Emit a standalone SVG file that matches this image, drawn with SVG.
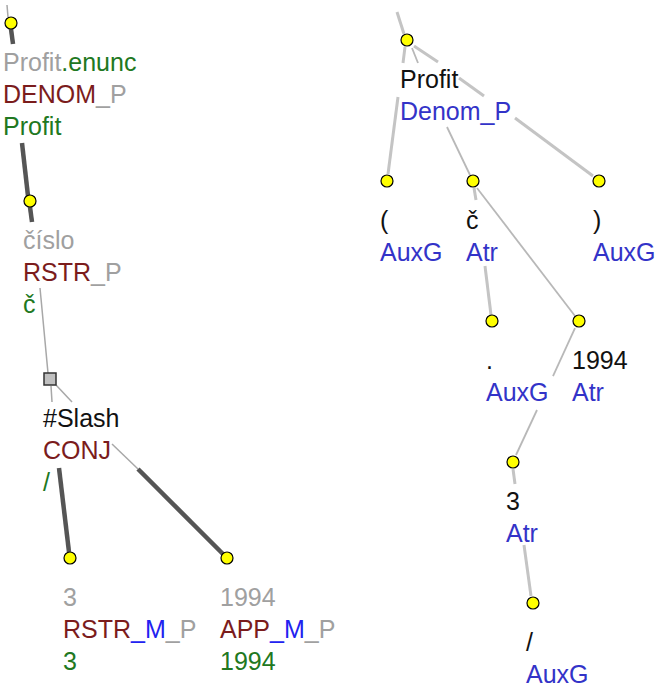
<svg xmlns="http://www.w3.org/2000/svg" width="659" height="687" viewBox="0 0 659 687">
<style>
text{font-family:"Liberation Sans",Arial,sans-serif;font-size:25px}
.g{fill:#a0a0a0}.gr{fill:#217821}.br{fill:#7b1c1c}.bl{fill:#2222f0}.k{fill:#111}.b{fill:#3333c8}
.nd{fill:#ffff00;stroke:#000;stroke-width:1.2}
.thick{stroke:#555;stroke-width:4.5;stroke-linecap:butt;fill:none}
.thin{stroke:#a8a8a8;stroke-width:1.5;fill:none}
.rt{stroke:#c4c4c4;stroke-width:3;fill:none}
.rn{stroke:#b8b8b8;stroke-width:1.8;fill:none}
</style>
<rect width="659" height="687" fill="#fff"/>
<g id="connectors">
<line class="thin" x1="7" y1="5" x2="8" y2="17" stroke="#777"/>
<line class="thick" x1="11" y1="29" x2="13" y2="44"/>
<line class="thick" x1="22" y1="143" x2="28" y2="196"/>
<line class="thick" x1="30" y1="207" x2="32" y2="222"/>
<line class="thin" x1="40" y1="288" x2="48" y2="373"/>
<line class="thin" x1="51" y1="386" x2="52" y2="402"/>
<line class="thick" x1="59" y1="468" x2="69" y2="552"/>
<line class="thin" x1="56" y1="385" x2="72" y2="402"/>
<line class="thin" x1="112" y1="444" x2="138" y2="469"/>
<line class="thick" x1="138" y1="469" x2="223" y2="554"/>
<line class="rt" x1="397" y1="12" x2="404" y2="34"/>
<line class="rt" x1="405" y1="47" x2="403" y2="63"/>
<line class="rt" x1="398" y1="97" x2="388" y2="174"/>
<line class="rn" x1="412" y1="48" x2="418" y2="63"/>
<line class="rn" x1="447" y1="127" x2="470" y2="175"/>
<line class="rt" x1="414" y1="46" x2="438" y2="62"/>
<line class="rt" x1="459" y1="78" x2="484" y2="96"/>
<line class="rt" x1="515" y1="118" x2="593" y2="176"/>
<line class="rt" x1="474" y1="188" x2="476" y2="200"/>
<line class="rt" x1="485" y1="266" x2="491" y2="315"/>
<line class="rn" x1="477" y1="188" x2="575" y2="316"/>
<line class="rn" x1="575" y1="328" x2="553" y2="376"/>
<line class="rn" x1="537" y1="410" x2="516" y2="455"/>
<line class="rt" x1="513" y1="469" x2="515" y2="484"/>
<line class="rt" x1="524" y1="545" x2="531" y2="596"/>
</g>
<g id="n-profit-enunc">
<circle class="nd" cx="11" cy="23" r="6"/>
<text x="3" y="71"><tspan class="g">Profit</tspan><tspan class="gr">.enunc</tspan></text>
<text x="3" y="103"><tspan class="br">DENOM</tspan><tspan class="g">_P</tspan></text>
<text x="3" y="135" class="gr">Profit</text>
</g>
<g id="n-cislo">
<circle class="nd" cx="30" cy="201" r="6"/>
<text x="23" y="249" class="g">číslo</text>
<text x="23" y="281"><tspan class="br">RSTR</tspan><tspan class="g">_P</tspan></text>
<text x="23" y="313" class="gr">č</text>
</g>
<g id="n-slash">
<rect x="44" y="373" width="12" height="12" fill="#c0c0c0" stroke="#333" stroke-width="1.5"/>
<text x="43" y="427" class="k">#Slash</text>
<text x="43" y="459" class="br">CONJ</text>
<text x="43" y="491" class="gr">/</text>
</g>
<g id="n-3">
<circle class="nd" cx="70" cy="558" r="6"/>
<text x="63" y="606" class="g">3</text>
<text x="63" y="638"><tspan class="br">RSTR</tspan><tspan class="bl">_M</tspan><tspan class="g">_P</tspan></text>
<text x="63" y="670" class="gr">3</text>
</g>
<g id="n-1994">
<circle class="nd" cx="227" cy="558" r="6"/>
<text x="220" y="606" class="g">1994</text>
<text x="220" y="638"><tspan class="br">APP</tspan><tspan class="bl">_M</tspan><tspan class="g">_P</tspan></text>
<text x="220" y="670" class="gr">1994</text>
</g>
<g id="a-profit">
<circle class="nd" cx="407" cy="40" r="6"/>
<text x="400" y="88" class="k">Profit</text>
<text x="400" y="120" class="b">Denom_P</text>
</g>
<g id="a-lpar">
<circle class="nd" cx="387" cy="181" r="6"/>
<text x="380" y="229" class="k">(</text>
<text x="380" y="261" class="b">AuxG</text>
</g>
<g id="a-c">
<circle class="nd" cx="473" cy="181" r="6"/>
<text x="466" y="229" class="k">č</text>
<text x="466" y="261" class="b">Atr</text>
</g>
<g id="a-rpar">
<circle class="nd" cx="599" cy="181" r="6"/>
<text x="593" y="229" class="k">)</text>
<text x="593" y="261" class="b">AuxG</text>
</g>
<g id="a-dot">
<circle class="nd" cx="492" cy="321" r="6"/>
<text x="486" y="369" class="k">.</text>
<text x="486" y="401" class="b">AuxG</text>
</g>
<g id="a-1994">
<circle class="nd" cx="579" cy="321" r="6"/>
<text x="572" y="369" class="k">1994</text>
<text x="572" y="401" class="b">Atr</text>
</g>
<g id="a-3">
<circle class="nd" cx="513" cy="462" r="6"/>
<text x="506" y="510" class="k">3</text>
<text x="506" y="542" class="b">Atr</text>
</g>
<g id="a-slash">
<circle class="nd" cx="533" cy="603" r="6"/>
<text x="526" y="651" class="k">/</text>
<text x="526" y="683" class="b">AuxG</text>
</g>
</svg>
